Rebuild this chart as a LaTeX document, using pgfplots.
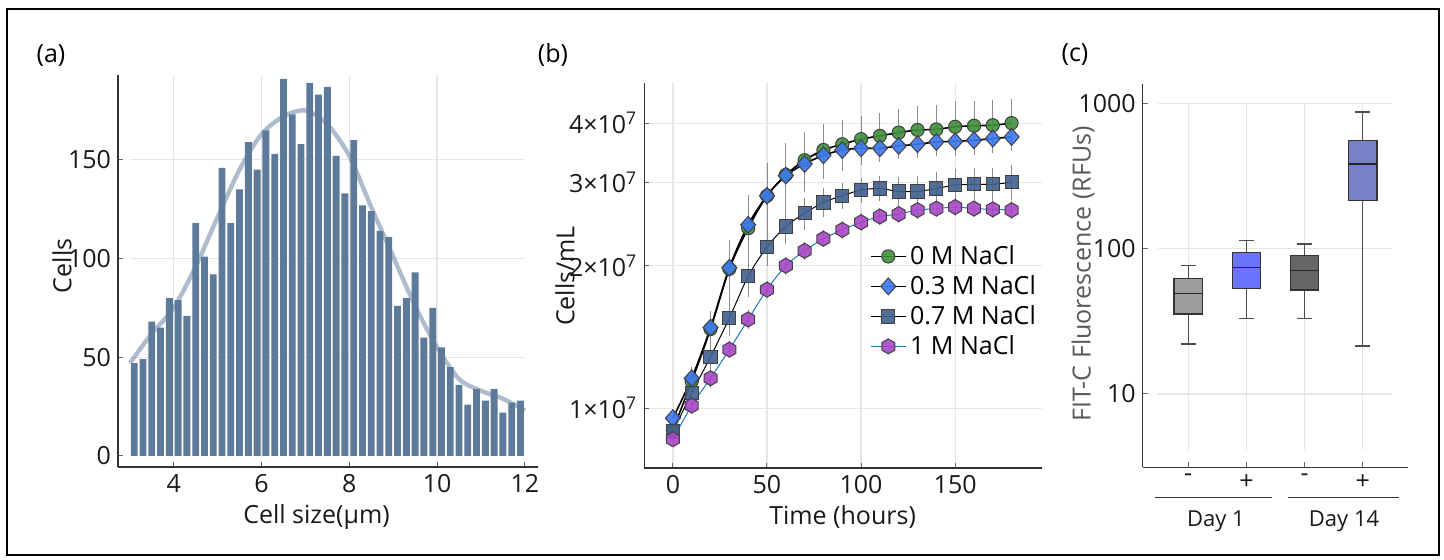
\documentclass[border=0pt]{standalone}
\usepackage{fontspec}
\setmainfont{Open Sans}
\usepackage{pgfplots}
\pgfplotsset{compat=1.18}
\usepgfplotslibrary{statistics}
\usepackage{pgfplotstable}

\definecolor{histc}{HTML}{5D7A9B}
\definecolor{gridc}{HTML}{E6E6E6}
\definecolor{cgreen}{HTML}{3F8F3A}
\definecolor{cblue}{HTML}{3C78F0}
\definecolor{cslate}{HTML}{415F8C}
\definecolor{cpurple}{HTML}{AA46C8}
\definecolor{cline}{HTML}{1F77B4}
\definecolor{boxa}{HTML}{9B9E9B}
\definecolor{boxb}{HTML}{6B73FF}
\definecolor{boxc}{HTML}{666666}
\definecolor{boxd}{HTML}{7880C8}

\pgfdeclareplotmark{hexagon*}{%
  \pgfpathmoveto{\pgfqpointpolar{90}{\pgfplotmarksize}}%
  \pgfpathlineto{\pgfqpointpolar{150}{\pgfplotmarksize}}%
  \pgfpathlineto{\pgfqpointpolar{210}{\pgfplotmarksize}}%
  \pgfpathlineto{\pgfqpointpolar{270}{\pgfplotmarksize}}%
  \pgfpathlineto{\pgfqpointpolar{330}{\pgfplotmarksize}}%
  \pgfpathlineto{\pgfqpointpolar{30}{\pgfplotmarksize}}%
  \pgfpathclose\pgfusepathqfillstroke}
\pgfdeclareplotmark{rdiamond*}{%
  \pgfpathmoveto{\pgfqpoint{0pt}{\pgfplotmarksize}}%
  \pgfpathlineto{\pgfqpoint{0.9\pgfplotmarksize}{0pt}}%
  \pgfpathlineto{\pgfqpoint{0pt}{-\pgfplotmarksize}}%
  \pgfpathlineto{\pgfqpoint{-0.9\pgfplotmarksize}{0pt}}%
  \pgfpathclose\pgfusepathqfillstroke}

\newcommand\fs{\fontsize{12.5}{15}\selectfont}

\pgfplotsset{panel/.style={
  scale only axis, axis lines=left, axis line style={-, black!80, line width=0.6pt},
  tick align=inside, major tick length=2.5pt, tick style={black!60, line width=0.5pt},
  minor tick num=0,
  ticklabel style={font=\fs, text=black!90},
  label style={font=\fs, text=black!90},
  /pgf/number format/assume math mode=true,
}}

% growth curves (cells/mL), error = sd
\pgfplotstableread{
t y e
0 0.90e7 0.02e7
10 1.14e7 0.05e7
20 1.47e7 0.10e7
30 1.97e7 0.25e7
40 2.40e7 0.37e7
50 2.81e7 0.42e7
60 3.11e7 0.45e7
70 3.34e7 0.42e7
80 3.51e7 0.40e7
90 3.61e7 0.38e7
100 3.70e7 0.37e7
110 3.76e7 0.37e7
120 3.82e7 0.38e7
130 3.87e7 0.40e7
140 3.88e7 0.40e7
150 3.93e7 0.44e7
160 3.95e7 0.42e7
170 3.96e7 0.42e7
180 4.00e7 0.42e7
}\greendata
\pgfplotstableread{
t y e
0 0.953e7 0.02e7
10 1.157e7 0.04e7
20 1.48e7 0.06e7
30 1.98e7 0.12e7
40 2.44e7 0.20e7
50 2.81e7 0.20e7
60 3.10e7 0.18e7
70 3.28e7 0.18e7
80 3.42e7 0.16e7
90 3.51e7 0.16e7
100 3.54e7 0.16e7
110 3.54e7 0.16e7
120 3.58e7 0.16e7
130 3.61e7 0.16e7
140 3.65e7 0.17e7
150 3.66e7 0.18e7
160 3.68e7 0.18e7
170 3.71e7 0.18e7
180 3.74e7 0.18e7
}\bluedata
\pgfplotstableread{
t y e
0 0.893e7 0.02e7
10 1.076e7 0.04e7
20 1.285e7 0.06e7
30 1.55e7 0.10e7
40 1.90e7 0.15e7
50 2.19e7 0.15e7
60 2.42e7 0.15e7
70 2.58e7 0.15e7
80 2.72e7 0.14e7
90 2.81e7 0.12e7
100 2.89e7 0.12e7
110 2.91e7 0.12e7
120 2.87e7 0.15e7
130 2.87e7 0.16e7
140 2.91e7 0.18e7
150 2.96e7 0.18e7
160 2.97e7 0.19e7
170 2.97e7 0.19e7
180 3.00e7 0.20e7
}\slatedata
\pgfplotstableread{
t y e
0 0.86e7 0.01e7
10 1.013e7 0.02e7
20 1.157e7 0.03e7
30 1.33e7 0.03e7
40 1.54e7 0.04e7
50 1.78e7 0.04e7
60 2.00e7 0.05e7
70 2.15e7 0.05e7
80 2.28e7 0.05e7
90 2.38e7 0.06e7
100 2.47e7 0.06e7
110 2.54e7 0.06e7
120 2.57e7 0.06e7
130 2.62e7 0.06e7
140 2.64e7 0.06e7
150 2.66e7 0.06e7
160 2.64e7 0.06e7
170 2.63e7 0.06e7
180 2.62e7 0.06e7
}\purpledata

\begin{document}
\begin{tikzpicture}
\useasboundingbox (0,0) rectangle (722pt,-280pt);
\draw[black, line width=0.7pt] (3.5pt,-4.5pt) rectangle (719.5pt,-277.5pt);
\node[font=\fs] at (25.5pt,-27.75pt) {(a)};
\node[font=\fs] at (276.5pt,-27.5pt) {(b)};
\node[font=\fs] at (537.5pt,-27.5pt) {(c)};

% ---------- (a) histogram ----------
\begin{axis}[panel, at={(59pt,-233.5pt)}, anchor=south west,
  width=210pt, height=196pt,
  xmin=2.73, xmax=12.3, ymin=-5.6, ymax=193,
  xtick={4,6,8,10,12}, ytick={0,50,100,150},
  xlabel={Cell size(µm)}, ylabel={Cells},
  xlabel style={at={(axis description cs:0.4726,-0.1276)}, anchor=center},
  every axis y label/.style={at={(axis description cs:-0.1333,0.513)}, anchor=center,
    rotate=90, font=\fs, text=black!90},
]
\pgfplotsinvokeforeach{50,100,150}{\draw[gridc, line width=0.6pt] (axis cs:3,#1) -- (axis cs:12,#1);}
\pgfplotsinvokeforeach{4,6,8,10}{\draw[gridc, line width=0.6pt] (axis cs:#1,0) -- (axis cs:#1,193);}
\addplot[ybar, bar width=0.156, fill=histc, draw=none] table {
x y
3.1 47
3.3 49
3.5 68
3.7 65
3.9 80
4.1 79
4.3 71
4.5 118
4.7 101
4.9 92
5.1 146
5.3 118
5.5 135
5.7 159
5.9 145
6.1 165
6.3 153
6.5 191
6.7 173
6.9 158
7.1 189
7.3 183
7.5 187
7.7 152
7.9 133
8.1 160
8.3 127
8.5 124
8.7 114
8.9 111
9.1 76
9.3 80
9.5 93
9.7 60
9.9 75
10.1 55
10.3 45
10.5 36
10.7 26
10.9 34
11.1 28
11.3 34
11.5 22
11.7 27
11.9 28
};
\addplot[smooth, draw=histc, draw opacity=0.5, line width=2.2pt] coordinates {
(3.0,47) (3.5,62) (4.0,75) (4.5,96) (5.0,121) (5.5,145) (6.0,163) (6.5,172)
(7.0,175) (7.5,168) (8.0,152) (8.5,126) (9.0,101) (9.5,76) (10.0,55)
(10.5,39) (11.0,33) (11.5,29) (12.0,23)
};
\end{axis}

% ---------- (b) growth curves ----------
\begin{axis}[panel, at={(322.15pt,-234pt)}, anchor=south west,
  width=198.7pt, height=192.65pt,
  xmin=-15.2, xmax=196, ymode=log, ymin=7.48e6, ymax=4.87e7,
  xtick={0,50,100,150}, ytick={1e7,2e7,3e7,4e7},
  yticklabels={\mbox{1×10\textsuperscript{7}},\mbox{2×10\textsuperscript{7}},\mbox{3×10\textsuperscript{7}},\mbox{4×10\textsuperscript{7}}},
  yminorticks=false,
  grid=major, major grid style={gridc, line width=0.6pt},
  xlabel={Time (hours)}, ylabel={Cells/mL},
  xlabel style={at={(axis description cs:0.499,-0.1272)}, anchor=center},
  every axis y label/.style={at={(axis description cs:-0.1996,0.498)}, anchor=center,
    rotate=90, font=\fs, text=black!90},
  legend style={draw=none, fill=none, at={(axis description cs:0.568,0.589)},
    anchor=north west, font=\fs, inner sep=0pt, row sep=0pt},
  legend cell align=left,
  error bars/error bar style={black!45, line width=0.4pt},
  error bars/error mark options={black!45, mark size=2pt, line width=0.4pt},
]
\addplot[black, line width=0.8pt, smooth, mark=*, mark size=3.3pt,
  mark options={fill=cgreen, draw=black!75, line width=0.5pt, fill opacity=0.9},
  error bars/.cd, y dir=both, y explicit]
  table[x=t, y=y, y error=e] {\greendata};
\addplot[black, line width=0.8pt, smooth, mark=rdiamond*, mark size=4.2pt,
  mark options={fill=cblue, draw=black!75, line width=0.5pt, fill opacity=0.9},
  error bars/.cd, y dir=both, y explicit]
  table[x=t, y=y, y error=e] {\bluedata};
\addplot[black, line width=0.5pt, smooth, mark=square*, mark size=3.3pt,
  mark options={fill=cslate, draw=black!75, line width=0.5pt, fill opacity=0.9},
  error bars/.cd, y dir=both, y explicit]
  table[x=t, y=y, y error=e] {\slatedata};
\addplot[cline, line width=0.5pt, smooth, mark=hexagon*, mark size=3.75pt,
  mark options={fill=cpurple, draw=black!75, line width=0.5pt, fill opacity=0.9},
  error bars/.cd, y dir=both, y explicit]
  table[x=t, y=y, y error=e] {\purpledata};
\legend{0 M NaCl, 0.3 M NaCl, 0.7 M NaCl, 1 M NaCl}
\end{axis}

% ---------- (c) box plots ----------
\begin{axis}[panel, at={(571.35pt,-233.65pt)}, anchor=south west,
  width=132.65pt, height=191.65pt,
  xmin=0.218, xmax=4.777, ymode=log, ymin=3.13, ymax=1359,
  xtick={1,2,3,4}, xticklabels={-,+,-,+},
  ytick={10,100,1000}, yticklabels={10,100,1000}, yminorticks=false,
  ylabel={FIT-C Fluorescence (RFUs)},
  every axis y label/.style={at={(axis description cs:-0.225,0.504)}, anchor=center,
    rotate=90, font=\fs, text=black!65},
  boxplot/draw direction=y, clip=false,
  boxplot/every whisker/.style={black!70, line width=0.7pt},
  boxplot/every median/.style={black!85, line width=0.8pt},
]
\pgfplotsinvokeforeach{10,100,1000}{\draw[gridc, line width=0.6pt] (axis cs:0.48,#1) -- (axis cs:4.494,#1);}
\pgfplotsinvokeforeach{1,2,3,4}{\draw[gridc, line width=0.6pt] (axis cs:#1,4.1) -- (axis cs:#1,1000);}
\addplot[boxplot prepared={lower whisker=22.1, lower quartile=35.5, median=49.3,
  upper quartile=62.2, upper whisker=76.4, draw position=1, box extend=0.49, whisker extend=0.26},
  fill=boxa, draw=black!80, line width=0.6pt] coordinates {};
\addplot[boxplot prepared={lower whisker=33, lower quartile=53, median=74,
  upper quartile=94.5, upper whisker=113.5, draw position=2, box extend=0.49, whisker extend=0.26},
  fill=boxb, draw=black!80, line width=0.6pt] coordinates {};
\addplot[boxplot prepared={lower whisker=33, lower quartile=52, median=70.6,
  upper quartile=89.5, upper whisker=108, draw position=3, box extend=0.49, whisker extend=0.26},
  fill=boxc, draw=black!80, line width=0.6pt] coordinates {};
\addplot[boxplot prepared={lower whisker=21.4, lower quartile=215, median=383,
  upper quartile=557, upper whisker=873, draw position=4, box extend=0.49, whisker extend=0.26},
  fill=boxd, draw=black!80, line width=0.6pt] coordinates {};
\draw[black!80, line width=0.6pt] (rel axis cs:0.0464,-0.0793) -- (rel axis cs:0.487,-0.0793);
\draw[black!80, line width=0.6pt] (rel axis cs:0.548,-0.0793) -- (rel axis cs:0.966,-0.0793);
\node[font=\fontsize{11}{13}\selectfont, text=black!90] at (rel axis cs:0.276,-0.142) {Day 1};
\node[font=\fontsize{11}{13}\selectfont, text=black!90] at (rel axis cs:0.759,-0.142) {Day 14};
\end{axis}
\end{tikzpicture}
\end{document}
